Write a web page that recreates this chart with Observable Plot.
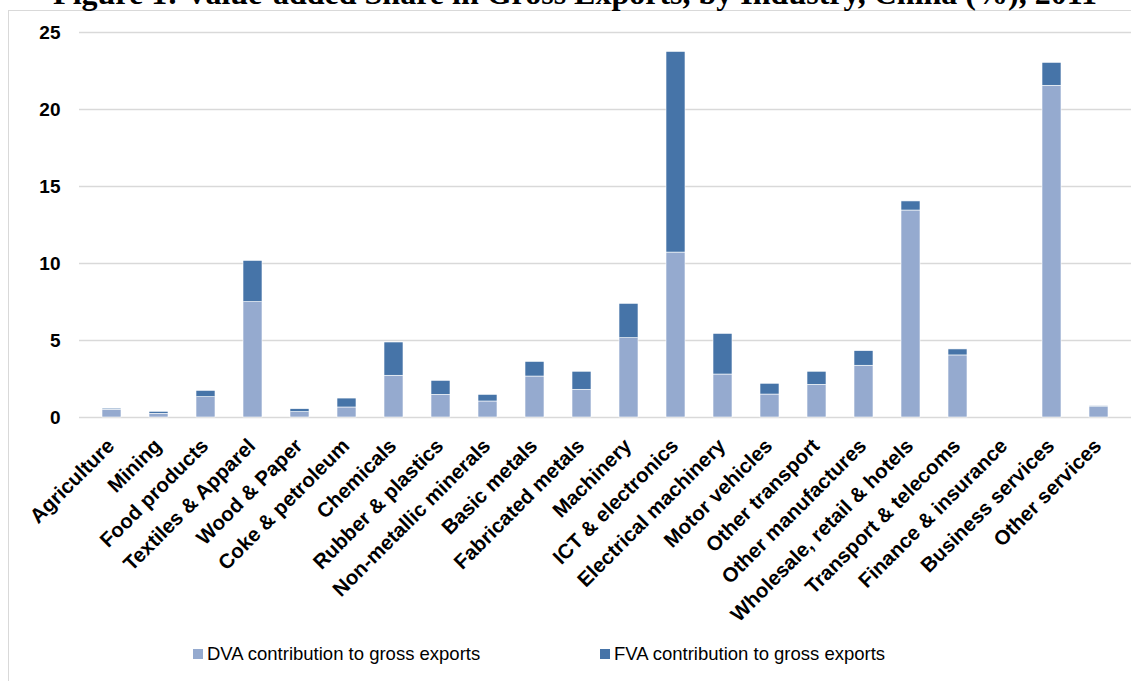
<!DOCTYPE html>
<html>
<head>
<meta charset="utf-8">
<script src="https://cdn.jsdelivr.net/npm/d3@7"></script>
<script src="https://cdn.jsdelivr.net/npm/@observablehq/plot@0.6"></script>
<style>
  html, body { margin: 0; padding: 0; background: #fff; width: 1131px; height: 681px; overflow: hidden; position: relative; }
  #title { position: absolute; left: 0; width: 1150px; top: -23px; line-height: 1; text-align: center; font-family: "Liberation Serif", "Times New Roman", serif; font-weight: bold; font-size: 32px; white-space: nowrap; color: #000; }
  #frame { position: absolute; left: 8px; top: 10px; width: 1200px; height: 800px; border: 1.5px solid #d9d9d9; box-sizing: border-box; }
  #chart { position: absolute; left: 0; top: 0; }
  #legend { position: absolute; top: 643px; left: 0; width: 1131px; font-family: "Liberation Sans", Arial, sans-serif; font-size: 18.5px; color: #000; }
  .item { position: absolute; display: flex; align-items: center; white-space: nowrap; }
  .sw { width: 10px; height: 10px; margin-right: 4px; }
</style>
</head>
<body>
<div id="frame"></div>
<div id="title">Figure 1: Value-added Share in Gross Exports, by Industry, China (%), 2011</div>
<div id="chart"></div>
<div id="legend"></div>
<script>
const industries = ["Agriculture", "Mining", "Food products", "Textiles & Apparel", "Wood & Paper", "Coke & petroleum", "Chemicals", "Rubber & plastics", "Non-metallic minerals", "Basic metals", "Fabricated metals", "Machinery", "ICT & electronics", "Electrical machinery", "Motor vehicles", "Other transport", "Other manufactures", "Wholesale, retail & hotels", "Transport & telecoms", "Finance & insurance", "Business services", "Other services"];
const dva = [0.50, 0.24, 1.32, 7.49, 0.35, 0.65, 2.71, 1.47, 1.04, 2.66, 1.80, 5.15, 10.71, 2.79, 1.49, 2.12, 3.36, 13.44, 4.03, 0.00, 21.54, 0.71];
const fva = [0.07, 0.13, 0.41, 2.68, 0.19, 0.58, 2.16, 0.91, 0.43, 0.95, 1.17, 2.23, 13.03, 2.64, 0.70, 0.85, 0.95, 0.59, 0.39, 0.00, 1.49, 0.05];
const seriesNames = ["DVA contribution to gross exports", "FVA contribution to gross exports"];
const seriesColors = ["#95aacf", "#4674a8"];
const yTicks = [0, 5, 10, 15, 20, 25];

const data = [];
industries.forEach((ind, i) => {
  data.push({industry: ind, series: seriesNames[0], value: dva[i]});
  data.push({industry: ind, series: seriesNames[1], value: fva[i]});
});

const chart = Plot.plot({
  width: 1131,
  height: 681,
  marginLeft: 79,
  marginRight: 0,
  marginTop: 32,
  marginBottom: 264,
  style: {fontFamily: "'Liberation Sans', Arial, sans-serif", background: "transparent"},
  x: {domain: industries, paddingInner: 0.6, paddingOuter: 0.3, label: null},
  y: {domain: [0, 25], ticks: yTicks, label: null},
  color: {domain: seriesNames, range: seriesColors},
  marks: [
    Plot.gridY(yTicks, {stroke: "#d9d9d9", strokeOpacity: 1, strokeWidth: 1.5}),
    Plot.barY(data, {x: "industry", y: "value", fill: "series", order: seriesNames, stroke: "#fff", strokeWidth: 0.6}),
    Plot.axisY(yTicks, {tickSize: 0, tickPadding: 19, fontSize: 19, fontWeight: "bold", fill: "#000", label: null}),
    Plot.axisX({tickSize: 0, tickPadding: 25, dx: -1, tickRotate: -45, textAnchor: "end", lineAnchor: "middle", fontSize: 20.5, fontWeight: "bold", fill: "#000", label: null})
  ]
});
document.getElementById("chart").appendChild(chart);

const legend = document.getElementById("legend");
const positions = [193, 600];
seriesNames.forEach((name, i) => {
  const item = document.createElement("div");
  item.className = "item";
  item.style.left = positions[i] + "px";
  const sw = document.createElement("span");
  sw.className = "sw";
  sw.style.background = seriesColors[i];
  const t = document.createElement("span");
  t.textContent = name;
  item.appendChild(sw);
  item.appendChild(t);
  legend.appendChild(item);
});
</script>
</body>
</html>
